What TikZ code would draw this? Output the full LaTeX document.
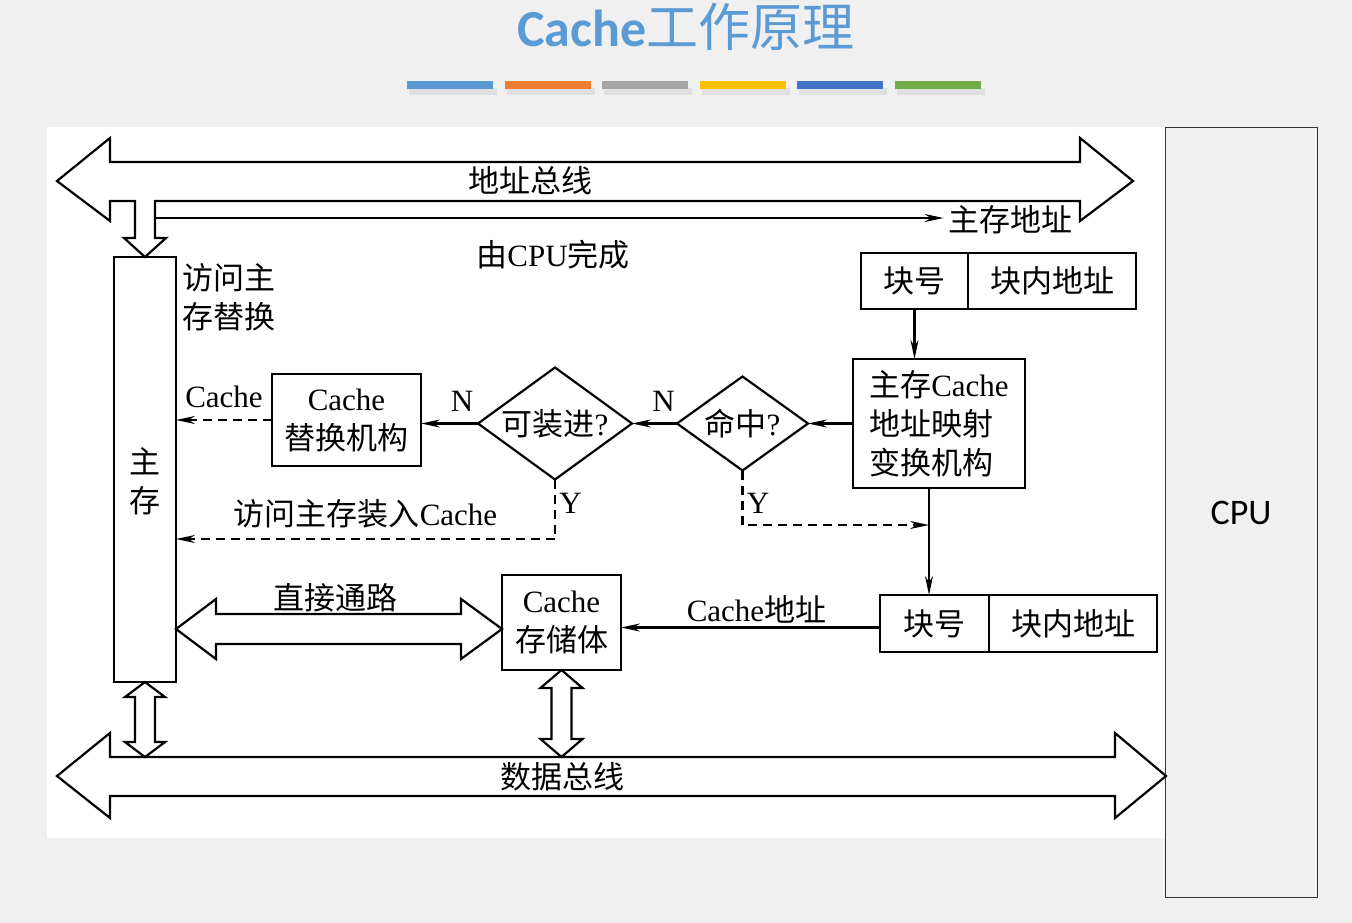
\documentclass[tikz,border=0pt]{standalone}
\usepackage{fontspec}
\setmainfont{Liberation Serif}
\newfontfamily\cjk{Noto Sans CJK SC}
\newfontfamily\cali{Carlito}
\usepackage{tikz}
\usetikzlibrary{arrows.meta,shapes.geometric,positioning,calc}
\definecolor{bg}{HTML}{F0F0F0}
\definecolor{titleblue}{HTML}{5B9BD5}
\definecolor{barblue}{HTML}{5B9BD5}
\definecolor{barorange}{HTML}{ED7D31}
\definecolor{bargray}{HTML}{A5A5A5}
\definecolor{baryellow}{HTML}{FFC000}
\definecolor{bardblue}{HTML}{4472C4}
\definecolor{bargreen}{HTML}{70AD47}
\newcommand{\zh}[1]{{\cjk #1}}

\begin{document}
\begin{tikzpicture}[x=1pt,y=-1pt,>={Stealth[length=19pt,width=8pt]},line width=2.2pt,
 every node/.style={font=\fontsize{31}{39}\selectfont},
 box/.style={draw, outer sep=0pt, inner sep=0pt, align=center},
 cond/.style={draw, diamond, outer sep=0pt, inner sep=0pt},
 dashln/.style={dash pattern=on 9pt off 6pt}]
 \fill[bg] (0,0) rectangle (1352,923);
 \fill[white] (47,127) rectangle (1165,838);
 \useasboundingbox (0,0) rectangle (1352,923);
 % title and colour bars
 \node[font=\fontsize{52}{60}\selectfont, text=titleblue] (title) at (686,27) {\cali\bfseries Cache{\cjk\mdseries 工作原理}};
 \foreach \c [count=\i from 0] in {barblue,barorange,bargray,baryellow,bardblue,bargreen}{
  \fill[black!12] (409+97.6*\i,88) rectangle (497+97.6*\i,95);
  \fill[\c] (407+97.6*\i,81) rectangle (493+97.6*\i,89);
 }
 % CPU
 \node[draw=black!80, line width=1pt, fill=bg, minimum width=152pt, minimum height=769pt, font=\fontsize{36}{40}\selectfont] (cpu) at (1241,512.5) {\cali CPU};
 % address bus
 \draw[fill=white] (57,181) -- (110,138) -- (110,162) -- (1080,162) -- (1080,138) -- (1133,181) -- (1080,221) -- (1080,201) -- (155,201) -- (155,238) -- (166,238) -- (145,257) -- (124,238) -- (135,238) -- (135,201) -- (110,201) -- (110,221) -- cycle;
 \node (abus) at (530,181) {\zh{地址总线}};
 \node (ma) at (1010,220) {\zh{主存地址}};
 \coordinate (tap) at (155,218);
 \draw[->] (tap) -- (tap -| ma.west);
 \node (bycpu) at (553,255) {\zh{由}CPU\zh{完成}};
 % main memory
 \node[box, minimum width=62pt, minimum height=425pt] (mm) at (145,469.5) {};
 \node[align=center] (mmtxt) at (145,481) {\zh{主}\\\zh{存}};
 \node[align=left] (mmrep) at (229,297) {\zh{访问主}\\\zh{存替换}};
 % address boxes
 \node[box, minimum width=107pt, minimum height=56pt] (bn1) at (914.5,281) {\zh{块号}};
 \node[box, minimum width=168pt, minimum height=56pt, right=0pt of bn1] (bo1) {\zh{块内地址}};
 \node[box, minimum width=172pt, minimum height=129pt, align=left] (map) at (939,423.5) {\zh{主存}Cache\\\zh{地址映射}\\\zh{变换机构}};
 \node[cond, aspect=1.39, minimum width=131pt, minimum height=94pt] (hit) at (742.5,423.5) {\zh{命中}?};
 \node[cond, aspect=1.375, minimum width=154pt, minimum height=112pt] (fit) at (555,423.5) {\zh{可装进}?};
 \node[box, minimum width=149pt, minimum height=92pt] (rep) at (346.5,420) {Cache\\\zh{替换机构}};
 \node[box, minimum width=109pt, minimum height=57pt] (bn2) at (934.5,623.5) {\zh{块号}};
 \node[box, minimum width=168pt, minimum height=57pt, right=0pt of bn2] (bo2) {\zh{块内地址}};
 \node[box, minimum width=119pt, minimum height=95pt] (cs) at (561.5,622.5) {Cache\\\zh{存储体}};
 % connectors
 \draw[->] (bn1.south) -- (bn1.south |- map.north);
 \draw[->] (map.west) -- (hit.east);
 \draw[->] (hit.west) -- node[pos=0.3, above=8pt] {N} (fit.east);
 \draw[->] (fit.west) -- node[pos=0.28, above=8pt] {N} (fit.west -| rep.east);
 \draw[->, dashln] (rep.west) -- node[above=8pt] {Cache} (rep.west -| mm.east);
 \coordinate (mid) at ([xshift=-10pt]map.south);
 \draw[->] (mid) -- (mid |- bn2.north);
 \coordinate (yj) at (929,525);
 \draw[->, dashln] (hit.south) |- node[pos=0.3, right] {Y} (yj);
 \coordinate (fy) at (555,539);
 \draw[->, dashln] (fit.south) |- node[pos=0.2, right] {Y} node[pos=0.75, above=6pt] {\zh{访问主存装入}Cache} (mm.east |- fy);
 \draw[->] ([yshift=-4pt]bn2.west) -- node[above, xshift=6pt] {Cache\zh{地址}} ([yshift=-4pt]bn2.west -| cs.east);
 % direct path
 \draw[fill=white] (176,629) -- (216,599) -- (216,614) -- (461,614) -- (461,599) -- (502,629) -- (461,659) -- (461,644) -- (216,644) -- (216,659) -- cycle;
 \node (direct) at (335,598) {\zh{直接通路}};
 % data bus
 \draw[fill=white] (57,776) -- (110,733) -- (110,757) -- (1115,757) -- (1115,733) -- (1166,776) -- (1115,818) -- (1115,796) -- (110,796) -- (110,818) -- cycle;
 \node (dbus) at (562,777) {\zh{数据总线}};
 \draw[fill=white] (145,682) -- (165,697) -- (155,697) -- (155,742) -- (165,742) -- (145,757) -- (125,742) -- (135,742) -- (135,697) -- (125,697) -- cycle;
 \draw[fill=white] (561.5,670) -- (582.5,688) -- (571.5,688) -- (571.5,739) -- (582.5,739) -- (561.5,757) -- (540.5,739) -- (551.5,739) -- (551.5,688) -- (540.5,688) -- cycle;
\end{tikzpicture}
\end{document}
